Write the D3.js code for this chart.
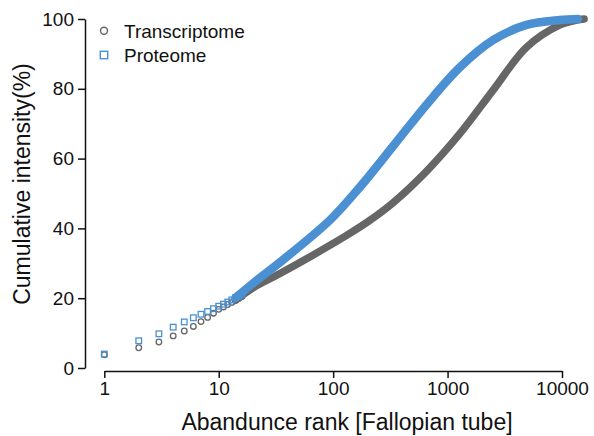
<!DOCTYPE html>
<html>
<head>
<meta charset="utf-8">
<script src="https://cdn.jsdelivr.net/npm/d3@7"></script>
<style>
  body { margin: 0; background: #fff; }
  text { font-family: "Liberation Sans", Arial, sans-serif; }
</style>
</head>
<body>
<script>
// first ranks are plotted as single open markers
let rankDots = [1, 2, 3, 4, 5, 6, 7, 8, 9, 10, 11, 12, 13, 14, 15, 16]
let transDots = [3.8, 5.8, 7.45, 9.2, 10.6, 11.9, 13.3, 14.5, 15.7, 16.8, 17.5, 18.2, 18.8, 19.4, 20.0, 20.5]
let protDots = [4.0, 7.8, 9.8, 11.7, 13.2, 14.4, 15.4, 16.2, 17.0, 17.7, 18.3, 18.9, 19.5, 20.1, 20.6, 21.1]

// dense part (at some ranks)
let transRanks = [14, 20, 34, 67, 131, 209, 335, 660, 1285, 2512, 4900, 9600, 13500, 15600]
let transVals = [19.4, 23.0, 27.0, 32.4, 38.0, 42.3, 47.4, 56.5, 67.2, 79.7, 91.9, 98.3, 99.7, 100]
let protRanks = [14, 20, 34, 94, 172, 335, 660, 1285, 2512, 4900, 9600, 13800]
let protVals = [20.1, 24.3, 30.2, 42.4, 51.9, 63.6, 75.6, 86.2, 94.0, 98.3, 99.7, 100]

let xTicks = [1, 10, 100, 1000, 10000]
let yTicks = [0, 20, 40, 60, 80, 100]

let width = 594
let height = 436
let grey = "#666666"
let blue = "#4a90d2"

let svg = d3.select("body")
    .append("svg")
    .attr("width", width)
    .attr("height", height)

let x = d3.scaleLog().domain([1, 10000]).range([104.3, 562])
let y = d3.scaleLinear().domain([0, 100]).range([368, 19])

// lines
let line = d3.line()
    .x(d => x(d[0]))
    .y(d => y(d[1]))
    .curve(d3.curveCatmullRom.alpha(0.5))

svg.append("path")
    .datum(d3.zip(transRanks, transVals))
    .attr("d", line)
    .attr("fill", "none")
    .attr("stroke", grey)
    .attr("stroke-width", 7.5)
    .attr("stroke-linecap", "round")

// single markers
svg.selectAll(".tdot")
    .data(d3.zip(rankDots, transDots))
    .enter()
    .append("circle")
    .attr("class", "tdot")
    .attr("cx", d => x(d[0]))
    .attr("cy", d => y(d[1]))
    .attr("r", 2.8)
    .attr("fill", "none")
    .attr("stroke", grey)
    .attr("stroke-width", 1.3)

svg.append("path")
    .datum(d3.zip(protRanks, protVals))
    .attr("d", line)
    .attr("fill", "none")
    .attr("stroke", blue)
    .attr("stroke-width", 8.5)
    .attr("stroke-linecap", "round")

svg.selectAll(".pdot")
    .data(d3.zip(rankDots, protDots))
    .enter()
    .append("rect")
    .attr("class", "pdot")
    .attr("x", d => x(d[0]) - 2.8)
    .attr("y", d => y(d[1]) - 2.8)
    .attr("width", 5.6)
    .attr("height", 5.6)
    .attr("fill", "none")
    .attr("stroke", blue)
    .attr("stroke-width", 1.3)

// axes
let xAxis = d3.axisBottom(x)
    .tickValues(xTicks)
    .tickFormat(d3.format("d"))
    .tickSize(7)
    .tickSizeOuter(0)
    .tickPadding(4)

let yAxis = d3.axisLeft(y)
    .tickValues(yTicks)
    .tickSize(7)
    .tickSizeOuter(0)
    .tickPadding(4)

let gx = svg.append("g")
    .attr("transform", "translate(0,371)")
    .call(xAxis)

let gy = svg.append("g")
    .attr("transform", "translate(85,0)")
    .call(yAxis)

for (let g of [gx, gy]) {
    g.selectAll("path, line").attr("stroke", "#111").attr("stroke-width", 1.5)
    g.selectAll("text")
        .attr("fill", "#111")
        .style("font-size", "19px")
        .style("font-family", "'Liberation Sans', Arial, sans-serif")
}

// axis titles
svg.append("text")
    .attr("x", 347)
    .attr("y", 430)
    .attr("text-anchor", "middle")
    .attr("fill", "#111")
    .style("font-size", "23px")
    .text("Abandunce rank [Fallopian tube]")

svg.append("text")
    .attr("transform", "translate(30,184) rotate(-90)")
    .attr("text-anchor", "middle")
    .attr("fill", "#111")
    .style("font-size", "23px")
    .text("Cumulative intensity(%)")

// legend
let legend = svg.append("g")
legend.append("circle")
    .attr("cx", 104).attr("cy", 30.7).attr("r", 3.5)
    .attr("fill", "none").attr("stroke", grey).attr("stroke-width", 1.4)
legend.append("rect")
    .attr("x", 100.3).attr("y", 51.3).attr("width", 7.4).attr("height", 7.4)
    .attr("fill", "none").attr("stroke", blue).attr("stroke-width", 1.4)
legend.append("text")
    .attr("x", 124).attr("y", 37.5)
    .attr("fill", "#111")
    .style("font-size", "19px")
    .text("Transcriptome")
legend.append("text")
    .attr("x", 124).attr("y", 62)
    .attr("fill", "#111")
    .style("font-size", "19px")
    .text("Proteome")
</script>
</body>
</html>
